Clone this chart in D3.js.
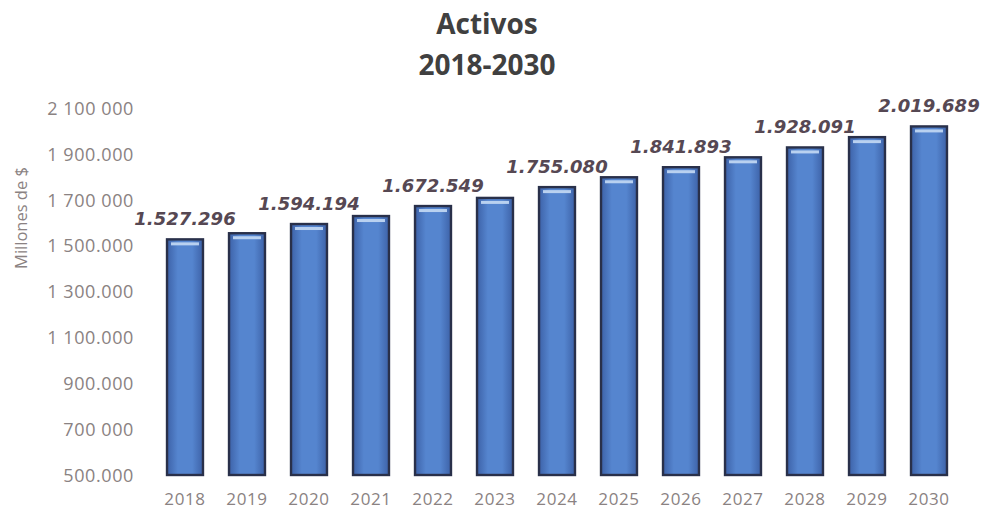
<!DOCTYPE html>
<html>
<head>
<meta charset="utf-8">
<script src="https://cdn.jsdelivr.net/npm/d3@7"></script>
<style>
  html, body { margin: 0; padding: 0; background: #ffffff; }
  svg { display: block; }
</style>
</head>
<body>
<svg id="chart" width="982" height="510"></svg>
<script>
// ---- data ----
const years = ["2018","2019","2020","2021","2022","2023","2024","2025","2026","2027","2028","2029","2030"];
const activos = [1527296, 1554000, 1594194, 1629000, 1672549, 1708000, 1755080, 1798000, 1841893, 1885000, 1928091, 1973000, 2019689];
const labeledYears = ["2018","2020","2022","2024","2026","2028","2030"];
const tickValues = [500000, 700000, 900000, 1100000, 1300000, 1500000, 1700000, 1900000, 2100000];
const tickLabels = ["500.000", "700 000", "900.000", "1 100.000", "1 300.000", "1 500.000", "1 700 000", "1 900.000", "2 100 000"];
const titleLines = ["Activos", "2018-2030"];
const yTitle = "Millones de $";

// ---- drawing ----
const svg = d3.select("#chart");

const x = d3.scaleBand().domain(years).range([154, 960]).paddingInner(0.42).paddingOuter(0.21);
const y = d3.scaleLinear().domain([500000, 2100000]).range([475, 108]);

const defs = svg.append("defs");
const grad = defs.append("linearGradient").attr("id", "barGrad")
  .attr("x1", "0%").attr("x2", "100%").attr("y1", "0%").attr("y2", "0%");
grad.append("stop").attr("offset", "0%").attr("stop-color", "#3d62a8");
grad.append("stop").attr("offset", "30%").attr("stop-color", "#5585cf");
grad.append("stop").attr("offset", "70%").attr("stop-color", "#5585cf");
grad.append("stop").attr("offset", "100%").attr("stop-color", "#3d62a8");

// title
svg.append("g").selectAll("text").data(titleLines).join("text")
  .attr("x", 487)
  .attr("y", (d, i) => 34 + i * 41)
  .attr("text-anchor", "middle")
  .attr("font-family", "'Open Sans', sans-serif")
  .attr("font-weight", 700)
  .attr("font-size", 28)
  .attr("fill", "#404040")
  .text(d => d);

// y axis
const labelMap = new Map(tickValues.map((v, i) => [v, tickLabels[i]]));
const yAxis = d3.axisLeft(y).tickValues(tickValues).tickSize(0).tickPadding(0)
  .tickFormat(v => labelMap.get(v));
const gy = svg.append("g").attr("transform", "translate(134,0)").call(yAxis);
gy.select(".domain").remove();
gy.selectAll("text")
  .attr("font-family", "'Open Sans', sans-serif")
  .attr("font-size", 18)
  .attr("letter-spacing", "0.6px")
  .attr("fill", "#8a8282")
  .attr("dy", "0.35em");

// y title
svg.append("text")
  .attr("transform", "translate(27,218) rotate(-90)")
  .attr("text-anchor", "middle")
  .attr("font-family", "'Open Sans', sans-serif")
  .attr("font-size", 16.5)
  .attr("fill", "#8a8282")
  .text(yTitle);

// x axis
const xAxis = d3.axisBottom(x).tickSize(0).tickPadding(0);
const gx = svg.append("g").attr("transform", "translate(0,493)").call(xAxis);
gx.select(".domain").remove();
gx.selectAll("text")
  .attr("font-family", "'Open Sans', sans-serif")
  .attr("font-size", 17)
  .attr("letter-spacing", "0.6px")
  .attr("fill", "#8a8282")
  .attr("dy", "0.71em");

// bars
const data = years.map((yr, i) => ({ year: yr, value: activos[i] }));
const bars = svg.append("g");
bars.selectAll("rect.bar").data(data).join("rect")
  .attr("class", "bar")
  .attr("x", d => x(d.year))
  .attr("y", d => y(d.value))
  .attr("width", x.bandwidth())
  .attr("height", d => y(500000) - y(d.value))
  .attr("fill", "url(#barGrad)")
  .attr("stroke", "#29304a")
  .attr("stroke-width", 2.4);

// top highlight
bars.selectAll("rect.hl").data(data).join("rect")
  .attr("class", "hl")
  .attr("x", d => x(d.year) + 4)
  .attr("y", d => y(d.value) + 3)
  .attr("width", x.bandwidth() - 8)
  .attr("height", 3)
  .attr("fill", "#b9d1f0");

// value labels
const fmt = v => d3.format(",")(v).replace(/,/g, ".");
svg.append("g").selectAll("text").data(data.filter(d => labeledYears.includes(d.year))).join("text")
  .attr("x", d => x(d.year) + x.bandwidth() / 2)
  .attr("y", d => y(d.value) - 14)
  .attr("text-anchor", "middle")
  .attr("font-family", "'DejaVu Sans', Verdana, sans-serif")
  .attr("font-style", "italic")
  .attr("font-weight", 700)
  .attr("font-size", 18)
  .attr("fill", "#564853")
  .text(d => fmt(d.value));
</script>
</body>
</html>
